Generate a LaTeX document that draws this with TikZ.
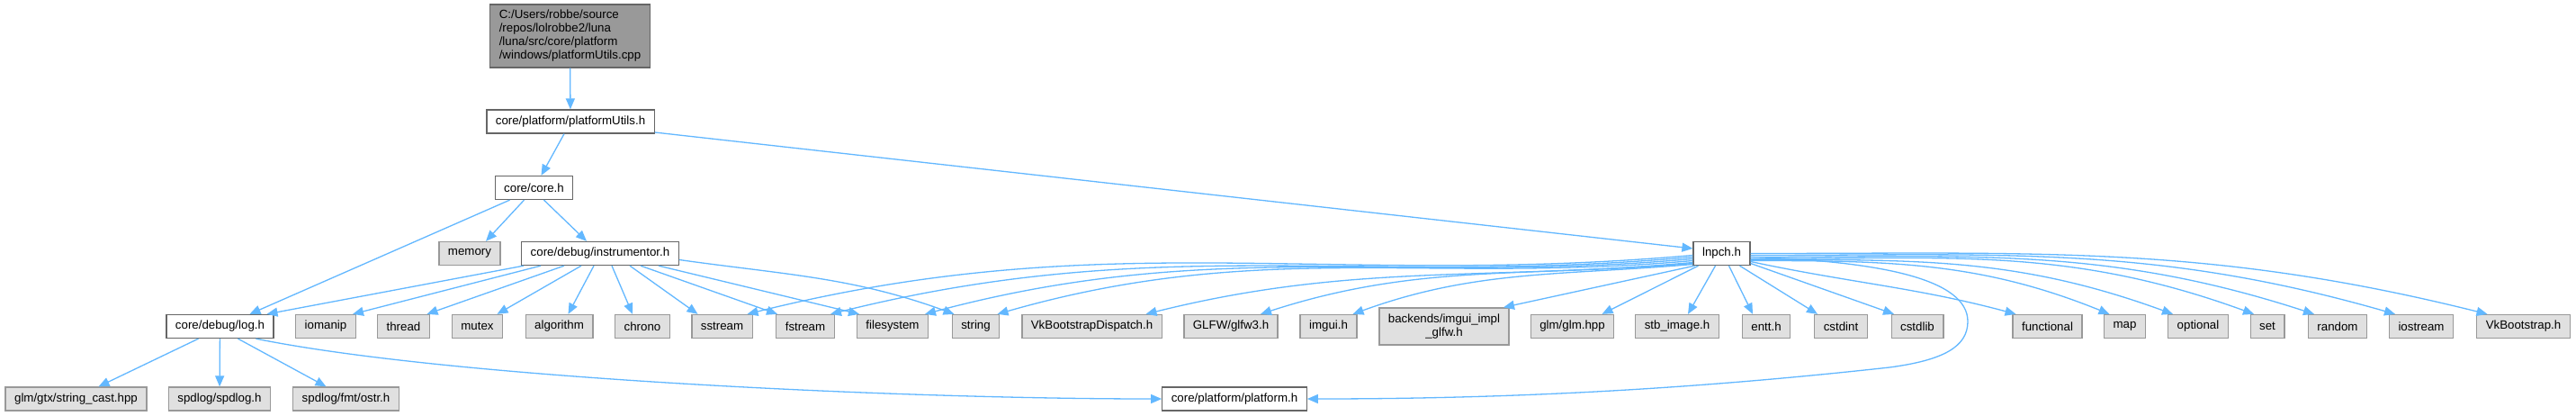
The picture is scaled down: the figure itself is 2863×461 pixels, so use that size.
\documentclass[tikz,border=0pt]{standalone}
\usepackage{fontspec}
\setmainfont{Liberation Sans}
\usetikzlibrary{arrows.meta,calc}
\definecolor{depBlue}{RGB}{99,184,255}
\definecolor{extFill}{RGB}{224,224,224}
\definecolor{extLine}{RGB}{153,153,153}
\definecolor{fileLine}{RGB}{102,102,102}
\definecolor{mainFill}{RGB}{153,153,153}

\begin{document}
\begin{tikzpicture}[x=1pt, y=1pt,
    font=\fontsize{13.3}{15}\selectfont,
    box/.style={draw, line width=1.3pt, inner xsep=10pt, inner ysep=0pt, minimum height=26pt},
    file/.style={box, draw=fileLine, fill=white},
    ext/.style={box, draw=extLine, fill=extFill},
    dep/.style={depBlue, line width=1.3pt, -{Triangle[length=12pt,width=10pt]}}]
    \fill[white] (0,0) rectangle (2863,-461);
    % file being documented
    \node[file, fill=mainFill, align=left, minimum width=177pt, minimum height=70pt] (main) at (633.5,-40)
      {C:/Users/robbe/source\\/repos/lolrobbe2/luna\\/luna/src/core/platform\\/windows/platformUtils.cpp};
    \node[file] (putils) at (634,-135) {core/platform/platformUtils.h};
    \node[file] (core) at (593.5,-208.5) {core/core.h};
    \node[ext] (memory) at (522,-281.5) {memory};
    \node[file] (instr) at (667,-281.5) {core/debug/instrumentor.h};
    \node[file] (lnpch) at (1913.5,-281.5) {lnpch.h};
    % third row
    \node[file] (logh) at (244.5,-362.5) {core/debug/log.h};
    \foreach \n/\x/\t in {iomanip/362/iomanip, thread/448.5/thread, mutex/530.5/mutex,
        algorithm/621.5/algorithm, chrono/714/chrono, sstream/802.5/sstream, fstream/895/fstream,
        filesys/992/filesystem, string/1084.5/string, vkdisp/1213.5/VkBootstrapDispatch.h,
        glfw/1368/{GLFW/glfw3.h}, imgui/1476.5/imgui.h, glmhpp/1747.5/{glm/glm.hpp},
        stbimage/1864/stb\_image.h, entt/1963/entt.h, cstdint/2046/cstdint, cstdlib/2131/cstdlib,
        functional/2275.5/functional, map/2361.5/map, optional/2443/optional, set/2520/set,
        random/2598/random, iostream/2691/iostream, vkboot/2804.5/VkBootstrap.h}
      \node[ext] (\n) at (\x,-362.5) {\t};
    \node[ext, align=center, minimum height=41pt] (backends) at (1605,-362.5) {backends/imgui\_impl\\\_glfw.h};
    % bottom row
    \node[ext] (strcast) at (84.5,-443) {glm/gtx/string\_cast.hpp};
    \node[ext] (spdlog) at (244,-443) {spdlog/spdlog.h};
    \node[ext] (ostr) at (384.5,-443) {spdlog/fmt/ostr.h};
    \node[file] (platform) at (1372,-443) {core/platform/platform.h};

    % upper part
    \draw[dep] (main) -- (putils);
    \draw[dep] ([xshift=-7pt]putils.south) -- ([xshift=8pt]core.north);
    \draw[dep] ([yshift=-12pt]putils.east) -- ([yshift=5.5pt]lnpch.west);
    \draw[dep] ([xshift=-27pt]core.south) -- ([xshift=33pt]logh.north);
    \draw[dep] ([xshift=-11pt]core.south) -- ([xshift=18pt]memory.north);
    \draw[dep] ([xshift=11pt]core.south) -- ([xshift=-15pt]instr.north);
    % instrumentor includes
    \foreach \t/\s/\d in {logh/-85/52, iomanip/-66/30, thread/-40/26, mutex/-21/22, algorithm/-7/10,
        chrono/13/-11, sstream/33/-27, fstream/45/-31, filesys/65/-37}
      \draw[dep] ([xshift=\s pt]instr.south) -- ([xshift=\d pt]\t.north);
    \draw[dep] ([yshift=-7pt]instr.east) .. controls +(-8:120) and +(160:120) .. ([xshift=-24pt]string.north);
    % log.h includes
    \draw[dep] ([xshift=-24pt]logh.south) -- ([xshift=25pt]strcast.north);
    \draw[dep] (logh) -- (spdlog);
    \draw[dep] ([xshift=20pt]logh.south) -- ([xshift=-22pt]ostr.north);
    \draw[dep] ([xshift=40pt]logh.south) .. controls (500,-420) and (1000,-443) .. (platform.west);
    % lnpch.h includes, left side
    \foreach \t/\s/\d/\a/\l in {sstream/-2/28/14/410, fstream/-4/28/14/375, filesys/-6/36/15/330,
        string/-8/24/16/300, vkdisp/-10/60/14/235, glfw/-11/33/18/185, imgui/-12/27/20/145}
      \draw[dep] ([yshift=\s pt]lnpch.west) .. controls +(185:\l) and +(\a:\l) .. ([xshift=\d pt]\t.north);
    \draw[dep] ([xshift=-30pt]lnpch.south) -- ([xshift=66pt]backends.north);
    \foreach \t/\s/\d in {glmhpp/-26/33, stbimage/-7/12, entt/8/-15, cstdint/20/-26}
      \draw[dep] ([xshift=\s pt]lnpch.south) -- ([xshift=\d pt]\t.north);
    % lnpch.h includes, right side
    \draw[dep] ([yshift=-11pt]lnpch.east) -- ([xshift=-26pt]cstdlib.north);
    \draw[dep] ([yshift=-9pt]lnpch.east) .. controls +(-12:115) and +(165:115) .. ([xshift=-35pt]functional.north);
    \foreach \t/\s/\d/\a/\l in {map/-8/-17/158/155, optional/-7/-28/160/185, set/-6/-15/160/220,
        random/-4/-26/162/245, iostream/-2/-29/164/280, vkboot/0/-40/166/320}
      \draw[dep] ([yshift=\s pt]lnpch.east) .. controls +(0:\l) and +(\a:\l) .. ([xshift=\d pt]\t.north);
    \draw[dep] ([yshift=-4pt]lnpch.east) .. controls (2090,-290) and (2187,-310) .. (2187,-357)
      .. controls (2187,-385) and (2160,-400) .. (2100,-408)
      .. controls (1900,-430) and (1700,-443) .. (platform.east);
\end{tikzpicture}
\end{document}
